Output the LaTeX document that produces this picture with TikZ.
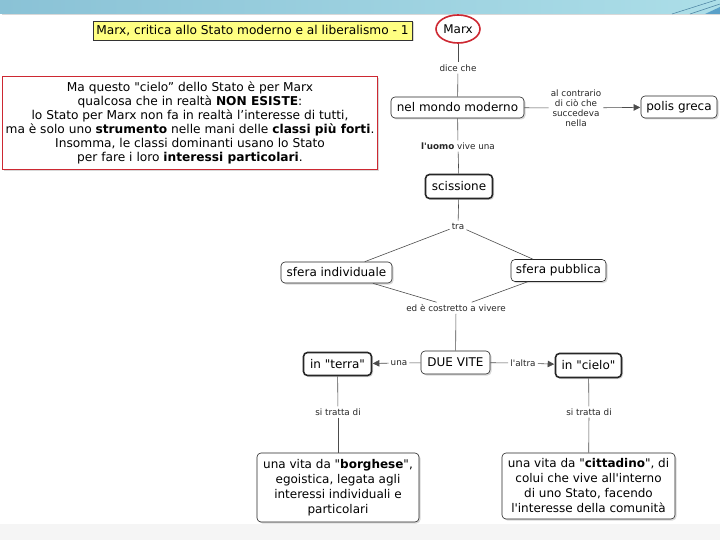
\documentclass[tikz,border=0pt]{standalone}
\usepackage{fontspec}
\setmainfont{DejaVu Sans}[Ligatures=TeXOff]
\usetikzlibrary{shadows,arrows.meta,shapes.geometric}
\definecolor{bandL}{RGB}{138,194,214}
\definecolor{bandR}{RGB}{172,222,232}
\definecolor{bandD}{RGB}{90,160,200}
\definecolor{titleY}{RGB}{255,255,130}
\definecolor{redB}{RGB}{205,40,50}
\begin{document}
\begin{tikzpicture}[x=1pt,y=-1pt,
  shade/.style={drop shadow={shadow xshift=1.5pt,shadow yshift=-1.5pt,fill=black!30}},
  box/.style={draw=black!85, line width=0.6pt, rounded corners=4pt, fill=white, shade,
    font=\fontsize{12}{15}\selectfont, inner sep=2pt, align=center},
  thickbox/.style={box, line width=1.6pt},
  lbl/.style={font=\fontsize{8.8}{10}\selectfont, inner sep=2pt, align=center, text=black!85},
  con/.style={draw=black!70, line width=0.6pt},
  arr/.style={con, -{Triangle[length=6.5pt,width=6.5pt]}, shorten >=0.5pt}
]
\useasboundingbox (0,0) rectangle (720,540);
% background bands
\shade[left color=bandL, right color=bandR] (0,0) rectangle (720,14);
\fill[bandD] (705,14) -- (720,14) -- (720,7) -- cycle;
\draw[bandD!80!black, line width=0.5pt] (672,14) -- (716,0);
\draw[bandD!80!black, line width=0.5pt] (690,14) -- (720,4);
\fill[black!4] (0,524) rectangle (720,540);

% title
\node[draw=black!80, line width=0.5pt, fill=titleY, shade, minimum width=319, minimum height=19,
  inner sep=0pt, font=\fontsize{12.2}{14}\selectfont] (title) at (252.5,30.5)
  {Marx, critica allo Stato moderno e al liberalismo - 1};

% red note
\node[draw=redB, line width=1.6pt, fill=white, shade, minimum width=375, minimum height=93,
  inner sep=0pt, align=center, font=\fontsize{12.2}{14}\selectfont] (note) at (190,123)
  {Ma questo "cielo” dello Stato è per Marx\\
   qualcosa che in realtà \textbf{NON ESISTE}:\\
   lo Stato per Marx non fa in realtà l’interesse di tutti,\\
   ma è solo uno \textbf{strumento} nelle mani delle \textbf{classi più forti}.\\
   Insomma, le classi dominanti usano lo Stato\\
   per fare i loro \textbf{interessi particolari}.};

% concept nodes
\node[ellipse, draw=redB, line width=1.6pt, fill=white, minimum width=44, minimum height=28,
  inner sep=0pt, font=\fontsize{12}{14}\selectfont] (marx) at (458,29) {Marx};
\node[box, minimum width=133, minimum height=21] (nmm) at (457.5,107.5) {nel mondo moderno};
\node[box, minimum width=76, minimum height=22] (polis) at (679,107) {polis greca};
\node[thickbox, minimum width=67, minimum height=24] (sciss) at (459,186.5) {scissione};
\node[box, minimum width=111, minimum height=21] (sind) at (336.5,272.5) {sfera individuale};
\node[box, minimum width=95, minimum height=22] (spub) at (558.5,270.5) {sfera pubblica};
\node[box, minimum width=69, minimum height=23] (due) at (455.5,362.5) {DUE VITE};
\node[thickbox, minimum width=68, minimum height=23] (terra) at (337.5,364) {in "terra"};
\node[thickbox, minimum width=66, minimum height=24] (cielo) at (588.5,365.5) {in "cielo"};
\node[box, minimum width=162, minimum height=69] (borg) at (338,487.5)
  {una vita da "\textbf{borghese}",\\ egoistica, legata agli\\ interessi individuali e\\ particolari};
\node[box, minimum width=173, minimum height=66] (citt) at (588.5,486)
  {una vita da "\textbf{cittadino}", di\\ colui che vive all'interno\\ di uno Stato, facendo\\ l'interesse della comunità};

% link labels
\node[lbl] (dice) at (458,68) {dice che};
\node[lbl] (contr) at (576,108) {al contrario\\ di ciò che\\ succedeva\\ nella};
\node[lbl] (uomo) at (458,146) {\textbf{l'uomo} vive una};
\node[lbl] (tra) at (458,226) {tra};
\node[lbl] (costr) at (456,308) {ed è costretto a vivere};
\node[lbl] (una) at (399,363) {una};
\node[lbl] (altra) at (523,363) {l'altra};
\node[lbl] (st1) at (338,412) {si tratta di};
\node[lbl] (st2) at (589,412) {si tratta di};

% connectors
\draw[con] (marx) -- (dice);
\draw[con] (dice) -- (nmm);
\draw[con] (nmm) -- (contr);
\draw[arr] (contr) -- (polis);
\draw[con] (nmm) -- (uomo);
\draw[con] (uomo) -- (sciss);
\draw[con] (sciss) -- (tra);
\draw[con] (tra) -- (sind);
\draw[con] (tra) -- (spub);
\draw[con] (sind) -- (costr);
\draw[con] (spub) -- (costr);
\draw[con] (costr) -- (due);
\draw[con] (due) -- (una);
\draw[arr] (una) -- (terra);
\draw[con] (due) -- (altra);
\draw[arr] (altra) -- (cielo);
\draw[con] (terra) -- (st1);
\draw[con] (st1) -- (borg);
\draw[con] (cielo) -- (st2);
\draw[con] (st2) -- (citt);
\end{tikzpicture}
\end{document}
